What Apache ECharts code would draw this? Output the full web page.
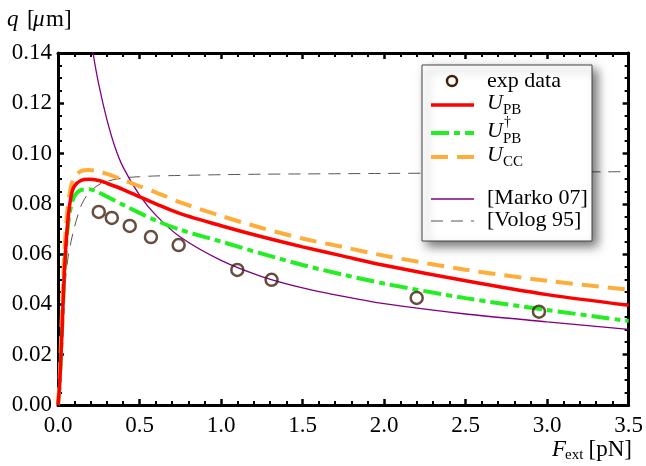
<!DOCTYPE html>
<html>
<head>
<meta charset="utf-8">
<script src="https://cdn.jsdelivr.net/npm/echarts@6/dist/echarts.min.js"></script>
<style>
  html, body { margin: 0; padding: 0; background: #fff; }
  #main { width: 646px; height: 466px; }
</style>
</head>
<body>
<div id="main"></div>
<script>
/****************数据***************/
// measured points
var expF = [0.25, 0.33, 0.44, 0.57, 0.74, 1.10, 1.31, 2.20, 2.95];
var expQ = [0.0768, 0.0744, 0.0712, 0.0668, 0.0636, 0.0537, 0.0498, 0.0426, 0.0371];

// theory curves, shared force grid
var curveF = [0, 0.01, 0.025, 0.04, 0.06, 0.08, 0.1, 0.14, 0.19, 0.25, 0.3, 0.4, 0.5, 0.6, 0.75, 1.0, 1.25, 1.5, 1.75, 2.0, 2.5, 3.0, 3.5];
var uPB     = [0, 0.008, 0.030, 0.054, 0.073, 0.083, 0.087, 0.0893, 0.0898, 0.0893, 0.0882, 0.0857, 0.0828, 0.0800, 0.0761, 0.0713, 0.0669, 0.0629, 0.0592, 0.0556, 0.0494, 0.0439, 0.0397];
var uPBdag  = [0, 0.008, 0.030, 0.053, 0.071, 0.079, 0.083, 0.0855, 0.0858, 0.0845, 0.0829, 0.0796, 0.0764, 0.0734, 0.0697, 0.0650, 0.0602, 0.0557, 0.0518, 0.0483, 0.0425, 0.0378, 0.0334];
var uCC     = [0, 0.010, 0.038, 0.062, 0.079, 0.087, 0.0905, 0.0930, 0.0935, 0.0929, 0.0919, 0.0895, 0.0870, 0.0846, 0.0806, 0.0752, 0.0704, 0.0662, 0.0628, 0.0594, 0.0538, 0.0494, 0.0459];
var vologQ  = [0, 0.012, 0.030, 0.046, 0.058, 0.065, 0.0705, 0.0790, 0.0845, 0.0876, 0.0890, 0.0903, 0.0908, 0.0911, 0.0913, 0.0916, 0.0918, 0.0919, 0.0920, 0.0921, 0.0923, 0.0926, 0.0928];

// Marko 07 diverges at small force
var markoF = [0.2, 0.215, 0.25, 0.3, 0.35, 0.4, 0.5, 0.6, 0.75, 1.0, 1.25, 1.5, 1.75, 2.0, 2.5, 3.0, 3.5];
var markoQ = [0.1475, 0.140, 0.1275, 0.1135, 0.1025, 0.0945, 0.0835, 0.0755, 0.0668, 0.0575, 0.0511, 0.0466, 0.0432, 0.0403, 0.0362, 0.0331, 0.0301];

var xTicks = { min: 0, max: 3.5, step: 0.5 };
var yTicks = { min: 0, max: 0.14, step: 0.02 };

function pairs(xs, ys) {
    return xs.map(function(x, i) { return [x, ys[i]]; });
}

var FONT = 'Liberation Serif';
var BROWN = '#40200c';

function axisBase(pos, labels, split, digits) {
    return {
        type: 'value',
        position: pos,
        axisLine: { show: true, onZero: false, lineStyle: { color: '#000', width: 3 } },
        axisTick: { show: true, inside: true, length: 6, lineStyle: { color: '#000', width: 2.5 } },
        minorTick: { show: true, splitNumber: split, length: 4, lineStyle: { color: '#000', width: 2 } },
        splitLine: { show: false },
        axisLabel: {
            show: labels,
            color: '#000',
            fontFamily: FONT,
            fontSize: 23,
            margin: pos === 'bottom' ? 9 : 6,
            formatter: function(v) { return v.toFixed(digits); }
        }
    };
}

var xBottom = Object.assign(axisBase('bottom', true, 5, 1), { min: xTicks.min, max: xTicks.max, interval: xTicks.step });
var xTop = Object.assign(axisBase('top', false, 5, 1), { min: xTicks.min, max: xTicks.max, interval: xTicks.step });
var yLeft = Object.assign(axisBase('left', true, 4, 2), { min: yTicks.min, max: yTicks.max, interval: yTicks.step });
var yRight = Object.assign(axisBase('right', false, 4, 2), { min: yTicks.min, max: yTicks.max, interval: yTicks.step });

function txt(x, y, s, size, italic, extra) {
    var st = { text: s, font: (italic ? 'italic ' : '') + size + 'px ' + FONT, fill: '#000', verticalAlign: 'middle' };
    if (extra) Object.assign(st, extra);
    return { type: 'text', x: x, y: y, style: st, z: 101 };
}

/*************图例 (drawn by hand)***************/
var LX = 431, LX2 = 474, TX = 487;
var legendGraphic = [
    { type: 'rect', shape: { x: 422, y: 65, width: 170, height: 176 },
      style: { fill: '#fff', stroke: '#444', lineWidth: 1, shadowBlur: 10, shadowOffsetX: 5, shadowOffsetY: 5, shadowColor: 'rgba(0,0,0,0.55)' }, z: 100 },
    { type: 'circle', shape: { cx: 452, cy: 81, r: 5 }, style: { fill: 'none', stroke: BROWN, lineWidth: 2.5 }, z: 101 },
    txt(TX, 81, 'exp data', 22, false),

    { type: 'line', shape: { x1: LX, y1: 105, x2: LX2, y2: 105 }, style: { stroke: '#ff0000', lineWidth: 3.5 }, z: 101 },
    txt(TX, 103, 'U', 22, true),
    txt(TX + 16, 110, 'PB', 15, false),

    { type: 'line', shape: { x1: LX, y1: 133, x2: LX2, y2: 133 }, style: { stroke: '#22ee22', lineWidth: 4, lineDash: [18, 5, 6, 5] }, z: 101 },
    txt(TX, 131, 'U', 22, true),
    txt(TX + 17, 122, '\u2020', 14, false),
    txt(TX + 16, 139, 'PB', 15, false),

    { type: 'line', shape: { x1: LX, y1: 157, x2: LX2, y2: 157 }, style: { stroke: '#ffad3a', lineWidth: 4, lineDash: [17, 9] }, z: 101 },
    txt(TX, 155, 'U', 22, true),
    txt(TX + 16, 162, 'CC', 15, false),

    { type: 'line', shape: { x1: LX, y1: 199, x2: LX2, y2: 199 }, style: { stroke: '#800080', lineWidth: 1.3 }, z: 101 },
    txt(TX, 198, '[Marko 07]', 22, false),

    { type: 'line', shape: { x1: LX, y1: 221, x2: LX2, y2: 221 }, style: { stroke: '#555', lineWidth: 1, lineDash: [12, 8] }, z: 101 },
    txt(TX, 220, '[Volog 95]', 22, false)
];

var titleGraphic = [
    txt(7, 20, 'q', 23, true),
    txt(27, 20, '[', 23, false),
    txt(33, 20, '\u03bc', 23, true),
    txt(46, 20, 'm]', 23, false),

    txt(552, 450, 'F', 23, true),
    txt(565, 455, 'ext', 15, false),
    txt(632, 450, '[pN]', 23, false, { align: 'right' })
];

var myChart = echarts.init(document.getElementById('main'), null, { renderer: 'canvas' });

var option = {
    backgroundColor: '#fff',
    animation: false,
    textStyle: { fontFamily: FONT },
    grid: { left: 58, top: 53, width: 574, height: 352, containLabel: false },
    xAxis: [xBottom, xTop],
    yAxis: [yLeft, yRight],
    graphic: titleGraphic.concat(legendGraphic),
    series: [
        {
            name: '[Volog 95]', type: 'line', data: pairs(curveF, vologQ), smooth: 0.3,
            showSymbol: false, clip: true, z: 2,
            lineStyle: { color: '#555', width: 1, type: [12, 8] }
        },
        {
            name: '[Marko 07]', type: 'line', data: pairs(markoF, markoQ), smooth: 0.3,
            showSymbol: false, clip: true, z: 2,
            lineStyle: { color: '#800080', width: 1.3 }
        },
        {
            name: 'U_PB†', type: 'line', data: pairs(curveF, uPBdag), smooth: 0.3,
            showSymbol: false, clip: true, z: 3,
            lineStyle: { color: '#22ee22', width: 4, type: [18, 5, 6, 5] }
        },
        {
            name: 'U_CC', type: 'line', data: pairs(curveF, uCC), smooth: 0.3,
            showSymbol: false, clip: true, z: 3,
            lineStyle: { color: '#ffad3a', width: 4, type: [17, 9] }
        },
        {
            name: 'U_PB', type: 'line', data: pairs(curveF, uPB), smooth: 0.3,
            showSymbol: false, clip: true, z: 4,
            lineStyle: { color: '#ff0000', width: 3.5 }
        },
        {
            name: 'exp data', type: 'scatter', data: pairs(expF, expQ), z: 5,
            symbol: 'circle', symbolSize: 12,
            itemStyle: { color: 'rgba(255,255,255,0)', borderColor: BROWN, borderWidth: 2.5 }
        }
    ]
};

myChart.setOption(option);
</script>
</body>
</html>
